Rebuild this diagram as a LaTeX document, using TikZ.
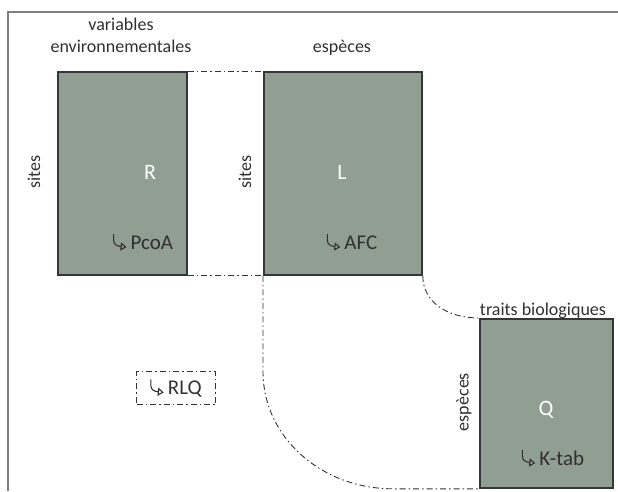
\documentclass[tikz,border=0pt]{standalone}
\usepackage{fontspec}
\setmainfont{Carlito}
\usetikzlibrary{positioning,arrows.meta}
\definecolor{tabfill}{HTML}{919E92}
\definecolor{tabedge}{HTML}{34363A}
\definecolor{inktext}{HTML}{303030}
\newcommand{\fleche}{\tikz[x=1pt,y=1pt,baseline=0pt]\draw[line width=1.1pt,inktext,-{Triangle[open,length=6pt,width=8pt]}] (1,15) -- (1,9) .. controls (1,5) and (4,3) .. (14,2);\,}

\begin{document}
\begin{tikzpicture}[x=1pt,y=-1pt,
  tab/.style={draw=tabedge,line width=1.8pt,fill=tabfill,anchor=north west,inner sep=0pt},
  lbl/.style={font=\fontsize{18}{22}\selectfont,text=inktext,inner sep=1pt},
  letter/.style={font=\fontsize{22}{24}\selectfont,text=white},
  meth/.style={font=\fontsize{21}{23}\selectfont,text=inktext,inner sep=1pt},
  link/.style={line width=0.9pt,black!80,dash pattern=on 6pt off 3pt on 1.5pt off 3pt}]
  \useasboundingbox (0,0) rectangle (618,491);
  \draw[gray,line width=2pt] (8,491) -- (8,12) -- (618,12);

  % tableaux
  \node[tab,minimum width=129pt,minimum height=203pt] (R) at (57,71) {};
  \node[tab,minimum width=158pt,minimum height=203pt] (L) at (263,71) {};
  \node[tab,minimum width=133pt,minimum height=169pt] (Q) at (479,318) {};

  \node[letter] (Rname) at (150,172) {R};
  \node[letter] (Lname) at (342,172) {L};
  \node[letter] (Qname) at (546,410) {Q};

  \node[meth] (pcoa) at (143,242) {\fleche PcoA};
  \node[meth] (afc) at (352,242) {\fleche AFC};
  \node[meth] (ktab) at (553,458) {\fleche K-tab};

  % etiquettes
  \node[lbl,align=center] (varenv) at (121,35) {variables\\environnementales};
  \node[lbl] (espL) at (342,48) {espèces};
  \node[lbl] (traits) at (543,311) {traits biologiques};
  \node[lbl,rotate=90] (sitesR) at (34,172) {sites};
  \node[lbl,rotate=90] (sitesL) at (245,172) {sites};
  \node[lbl,rotate=90] (espQ) at (464,402) {espèces};

  \node[meth,link,draw,minimum width=79pt,minimum height=33pt] (rlq) at (176,388) {\fleche RLQ};

  % liens
  \draw[link] (R.north east) -- (L.north west);
  \draw[link] (R.south east) -- (L.south west);
  \draw[link] (L.south east) .. controls +(0,26) and +(-32,0) .. (Q.north west);
  \draw[link] (L.south west) -- ++(0,96) .. controls +(0,65) and +(-72,0) .. ++(130,117) -- (Q.south west);
\end{tikzpicture}
\end{document}
